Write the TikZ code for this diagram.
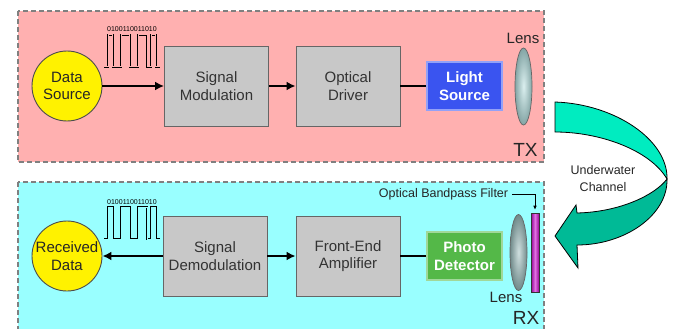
\documentclass[tikz,border=0pt]{standalone}
\usepackage{fontspec}
\setmainfont{Liberation Sans}
\usepackage{tikz}
\usetikzlibrary{shapes.geometric,arrows.meta}

\definecolor{txpink}{RGB}{255,176,176}
\definecolor{rxcyan}{RGB}{153,255,255}
\definecolor{boxgray}{RGB}{200,200,200}
\definecolor{srcblue}{RGB}{58,84,240}
\definecolor{detgreen}{RGB}{84,184,72}
\definecolor{chanlight}{RGB}{0,236,192}
\definecolor{chandark}{RGB}{0,186,150}
\definecolor{filtmag}{RGB}{200,0,200}
\definecolor{txglass}{RGB}{175,220,220}
\definecolor{rxglass}{RGB}{150,185,185}

\begin{document}
\begin{tikzpicture}[x=1pt,y=-1pt,
		panel/.style={draw=black!50,dash pattern=on 5pt off 3pt,line width=1.1pt},
		unit/.style={draw=black!60,fill=boxgray,line width=0.9pt,minimum width=104pt,minimum height=80pt,align=center,text=black!80,font=\fontsize{15}{17.5}\selectfont},
		datadot/.style={circle,draw=black!70,fill=yellow,line width=0.9pt,minimum size=70pt,inner sep=0pt,align=center,text=black!85,font=\fontsize{15}{17.5}\selectfont},
		optic/.style={draw=#1!55!white,fill=#1,line width=1.2pt,minimum width=75pt,minimum height=48pt,align=center,text=white,font=\bfseries\fontsize{15}{17.5}\selectfont},
		lens/.style={ellipse,draw=black!60,line width=0.7pt,inner color=#1!45!white,outer color=#1!75!black,minimum width=17pt,minimum height=77pt,inner sep=0pt},
		lbl/.style={font=\fontsize{15}{17}\selectfont,text=black!85,inner sep=0pt},
		sig/.style={line width=1.8pt,-{Latex[length=9pt,width=9pt]}},
		wire/.style={line width=1.8pt},
		wave/.style={line width=0.45pt,double=#1,double distance=1pt},
		bits/.style={font=\fontsize{7}{8}\selectfont,inner sep=0pt}]
		\useasboundingbox (0,0) rectangle (677,329);
		% transmitter
		\begin{scope}[shift={(0,0)}]
		\draw[panel,fill=txpink] (18,11) rectangle (544,162);
		\node[datadot] (src) at (67,86) {Data\\Source};
		\node[unit] (mod) at (216.5,86) {Signal\\Modulation};
		\node[unit] (drv) at (348,86) {Optical\\Driver};
		\node[optic=srcblue] (light) at (464.5,86) {Light\\Source};
		\node[lens=txglass] (txlens) at (523.5,86.5) {};
		\node[lbl] (txlenslbl) at (523,38) {Lens};
		\node[lbl,font=\fontsize{19}{21}\selectfont] (txlbl) at (525.5,149.5) {TX};
		\node[bits] (txbits) at (132,29) {0100110011010};
		\draw[wave=txpink] (104,67) -- (108.3,67) -- (108.3,35) -- (112.6,35) -- (112.6,67) -- (121.2,67) -- (121.2,35) -- (129.8,35) -- (129.8,67) -- (138.4,67) -- (138.4,35) -- (147.1,35) -- (147.1,67) -- (151.4,67) -- (151.4,35) -- (155.7,35) -- (155.7,67) -- (160,67);
		\draw[sig] (src) -- (mod);
		\draw[sig] (mod) -- (drv);
		\draw[wire] (drv) -- (light);
		\end{scope}
		% receiver
		\begin{scope}[shift={(0,170)}]
		\draw[panel,fill=rxcyan] (18,12) rectangle (544,175);
		\node[datadot] (rcv) at (67,86) {Received\\Data};
		\node[unit] (demod) at (215,86) {Signal\\Demodulation};
		\node[unit] (fea) at (348,86) {Front-End\\Amplifier};
		\node[optic=detgreen] (det) at (464.5,86) {Photo\\Detector};
		\node[lens=rxglass,minimum height=76pt] (rxlens) at (518.5,82.5) {};
		\node[draw=black!80,line width=0.6pt,left color=filtmag!75!black,right color=filtmag!75!black,middle color=filtmag!55!white,minimum width=8pt,minimum height=79pt,inner sep=0pt] (filt) at (535,82.5) {};
		\node[lbl,font=\fontsize{12.5}{14}\selectfont] (filtlbl) at (443.5,24) {Optical Bandpass Filter};
		\coordinate (filtbend) at (535,24);
		\node[lbl] (rxlenslbl) at (506,127) {Lens};
		\node[lbl,font=\fontsize{19}{21}\selectfont] (rxlbl) at (526,147.5) {RX};
		\node[bits] (rxbits) at (132,32) {0100110011010};
		\draw[wave=rxcyan] (104,69) -- (108.3,69) -- (108.3,37) -- (112.6,37) -- (112.6,69) -- (121.2,69) -- (121.2,37) -- (129.8,37) -- (129.8,69) -- (138.4,69) -- (138.4,37) -- (147.1,37) -- (147.1,69) -- (151.4,69) -- (151.4,37) -- (155.7,37) -- (155.7,69) -- (160,69);
		\draw[sig] (demod) -- (rcv);
		\draw[sig] (demod) -- (fea);
		\draw[wire] (fea) -- (det);
		\draw[line width=0.6pt,-{Latex[length=4pt,width=3.5pt]},shorten <=4pt,shorten >=3pt] (filtlbl) -- (filtbend) -- (filt);
		\end{scope}
		% channel arrow
		\filldraw[fill=chanlight,draw=black,line width=0.8pt] (555,102) .. controls (615,104) and (668,140) .. (667,179) .. controls (650,150) and (600,132) .. (555,132) -- cycle;
		\filldraw[fill=chandark,draw=black,line width=0.8pt] (667,179) .. controls (668,215) and (625,245) .. (577,245) -- (578,268) -- (555,236) -- (576,205) -- (577,213) .. controls (620,212) and (655,195) .. (667,179) -- cycle;
		\node[align=center,font=\fontsize{12.5}{17}\selectfont,text=black!85] (chan) at (603,179) {Underwater\\Channel};
\end{tikzpicture}
\end{document}
